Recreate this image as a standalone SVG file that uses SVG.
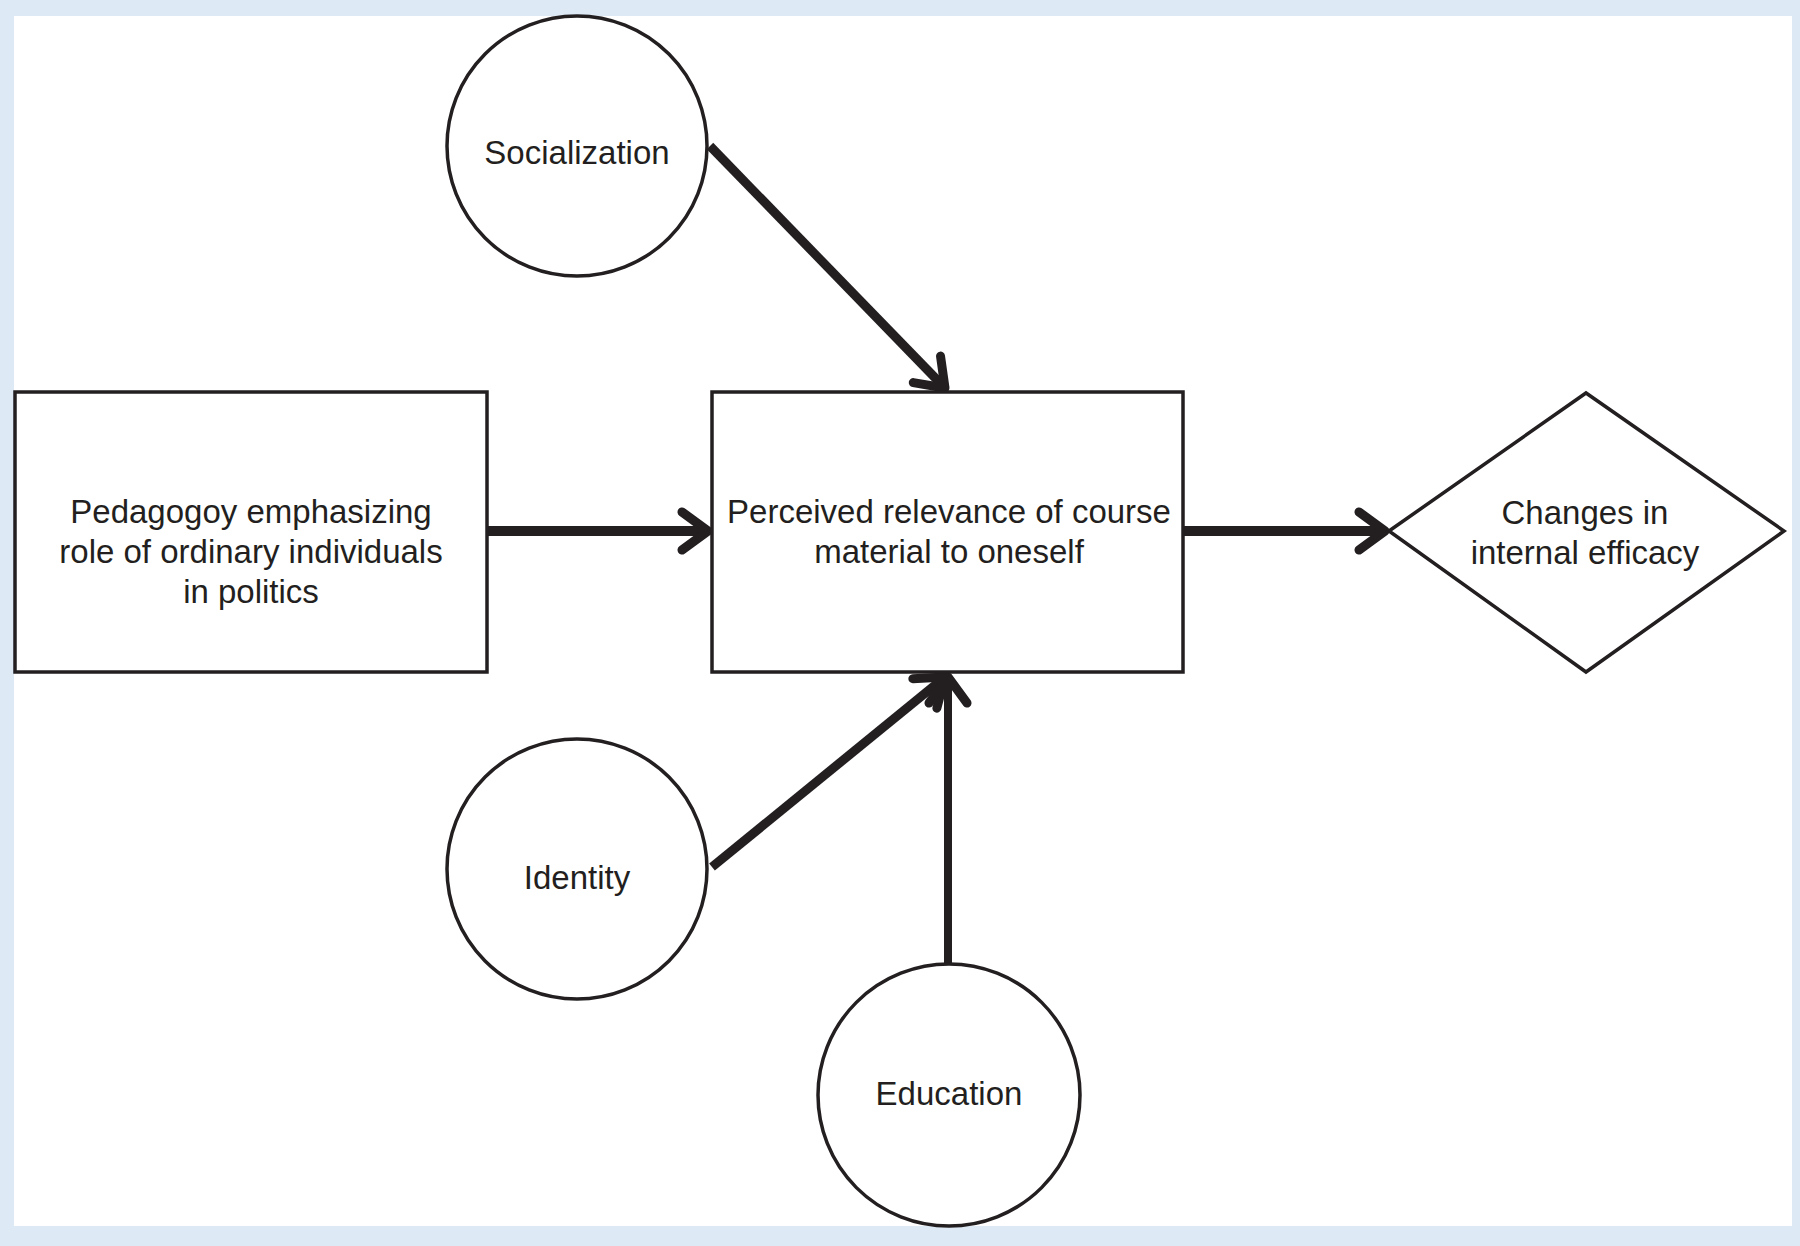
<svg xmlns="http://www.w3.org/2000/svg" width="1800" height="1246" viewBox="0 0 1800 1246">
<style>
.shape{fill:#ffffff;stroke:#231f20;stroke-width:3.5}
.lbl{font-family:"Liberation Sans",Arial,sans-serif;font-size:33px;fill:#231f20;text-anchor:middle}
.conn{stroke:#231f20;fill:none;stroke-linecap:butt}
</style>
<defs>
<marker id="chev" markerUnits="userSpaceOnUse" viewBox="-36 -28 42 56" markerWidth="42" markerHeight="56" refX="0" refY="0" orient="auto">
<path d="M-26,-19 L0,0 L-26,19" fill="none" stroke="#231f20" stroke-width="9" stroke-linecap="round" stroke-linejoin="round"/>
</marker>
</defs>
<rect x="0" y="0" width="1800" height="1246" fill="#dde9f5"/>
<rect x="14" y="16" width="1778" height="1210" fill="#ffffff"/>

<g id="connectors">
<line class="conn" x1="487" y1="531" x2="708" y2="531" stroke-width="10" marker-end="url(#chev)"/>
<line class="conn" x1="1183" y1="531" x2="1385" y2="531" stroke-width="10" marker-end="url(#chev)"/>
<line class="conn" x1="710" y1="146" x2="945" y2="388" stroke-width="9" marker-end="url(#chev)"/>
<line class="conn" x1="712" y1="867" x2="945" y2="677" stroke-width="9" marker-end="url(#chev)"/>
<line class="conn" x1="948" y1="964" x2="948" y2="677" stroke-width="8" marker-end="url(#chev)"/>
</g>

<g id="node-pedagogy">
<rect class="shape" x="15" y="392" width="472" height="280"/>
<text class="lbl" x="251" y="523">Pedagogoy emphasizing</text>
<text class="lbl" x="251" y="563">role of ordinary individuals</text>
<text class="lbl" x="251" y="603">in politics</text>
</g>

<g id="node-relevance">
<rect class="shape" x="712" y="392" width="471" height="280"/>
<text class="lbl" x="949" y="523">Perceived relevance of course</text>
<text class="lbl" x="949" y="563">material to oneself</text>
</g>

<g id="node-efficacy">
<polygon class="shape" points="1389,531 1586,393 1784,531 1586,672"/>
<text class="lbl" x="1585" y="524">Changes in</text>
<text class="lbl" x="1585" y="564">internal efficacy</text>
</g>

<g id="node-socialization">
<circle class="shape" cx="577" cy="146" r="130"/>
<text class="lbl" x="577" y="164">Socialization</text>
</g>

<g id="node-identity">
<circle class="shape" cx="577" cy="869" r="130"/>
<text class="lbl" x="577" y="889">Identity</text>
</g>

<g id="node-education">
<circle class="shape" cx="949" cy="1095" r="131"/>
<text class="lbl" x="949" y="1105">Education</text>
</g>
</svg>
